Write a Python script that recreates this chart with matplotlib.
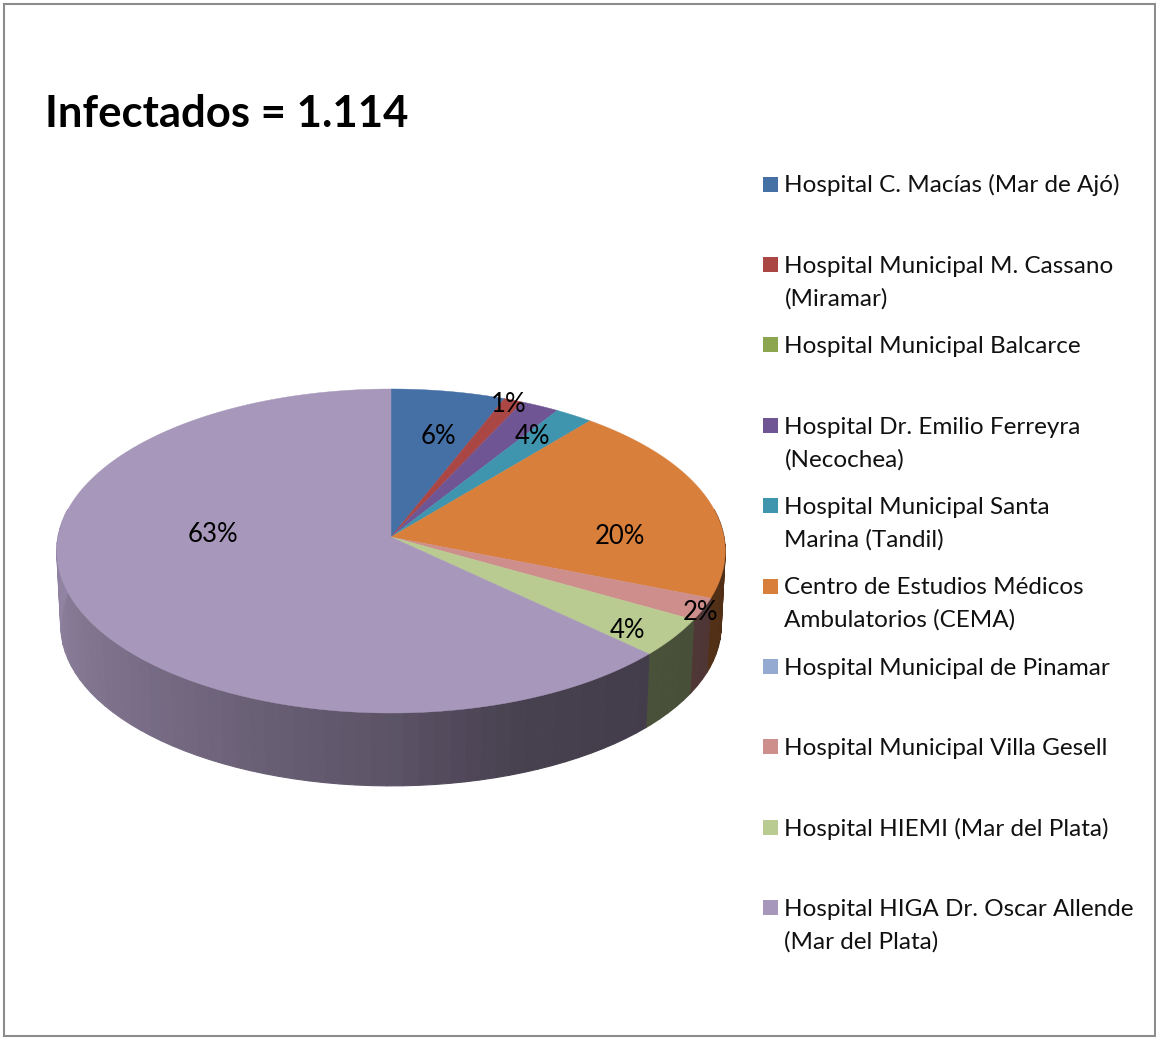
import numpy as np
import matplotlib
matplotlib.use("Agg")
from matplotlib import pyplot as plt
from matplotlib.patches import Rectangle

plt.rcParams['font.family'] = ['Lato', 'DejaVu Sans']

hospitals = [
    "Hospital C. Macías (Mar de Ajó)",
    "Hospital Municipal M. Cassano\n(Miramar)",
    "Hospital Municipal Balcarce",
    "Hospital Dr. Emilio Ferreyra\n(Necochea)",
    "Hospital Municipal Santa\nMarina (Tandil)",
    "Centro de Estudios Médicos\nAmbulatorios (CEMA)",
    "Hospital Municipal de Pinamar",
    "Hospital Municipal Villa Gesell",
    "Hospital HIEMI (Mar del Plata)",
    "Hospital HIGA Dr. Oscar Allende\n(Mar del Plata)",
]
shares = [6.0, 1.0, 0.0, 2.0, 2.0, 20.0, 0.0, 2.2, 3.8, 63.0]
colors = ["#4570A6", "#AA4644", "#8BA64F", "#6F5594", "#4095AE",
          "#D87F3B", "#95AAD1", "#CE8E8C", "#B9CB90", "#A797BA"]

pct_labels = ["6%", "1%", "4%", "20%", "2%", "4%", "63%"]
pct_x = [438, 509, 532, 620, 701, 627, 213]
pct_y = [437, 405, 437, 536, 612, 631, 535]

# side shading, fraction of the slice colour by angle
shade_angles = [90, 133, 160, 180, 225, 270]
shade_values = [0.36, 0.40, 0.43, 0.55, 0.72, 0.87]

W, H = 1156, 1038
fig = plt.figure(figsize=(W / 100, H / 100), dpi=100)
ax = fig.add_axes([0, 0, 1, 1])
ax.set_xlim(0, W)
ax.set_ylim(H, 0)
ax.axis('off')

ax.add_patch(Rectangle((3.5, 3.5), W - 5, H - 6, fill=False, ec="#8C8C8C", lw=1.5))


# perspective circle, angle in degrees clockwise from the top
def rim(theta, cy=537.0, rx=333.0, ky=160.8, p=0.0864, scale=1.0):
    t = np.radians(theta)
    u, v = np.sin(t), np.cos(t)
    d = 1 + p * v
    return 391.0 + scale * rx * u / d, cy - scale * ky * v / d


edges = np.cumsum([0.0] + shares) * 3.6

# side wall first
for i, col in enumerate(colors):
    a0, a1 = edges[i], edges[i + 1]
    if a1 <= a0:
        continue
    lo, hi = max(a0, 80), min(a1, 280)
    if hi <= lo:
        continue
    rgb = np.array(matplotlib.colors.to_rgb(col))
    steps = np.arange(lo, hi, 2.5).tolist() + [hi]
    for s0, s1 in zip(steps[:-1], steps[1:]):
        x0, y0 = rim(s0)
        x1, y1 = rim(s1)
        x2, y2 = rim(s1, cy=612.0, scale=0.988)
        x3, y3 = rim(s0, cy=612.0, scale=0.988)
        f = np.interp((s0 + s1) / 2, shade_angles, shade_values)
        c = rgb * f
        ax.fill([x0, x1, x2, x3], [y0, y1, y2, y3], color=c, lw=0.8, zorder=2)

# top face
for i, col in enumerate(colors):
    a0, a1 = edges[i], edges[i + 1]
    if a1 <= a0:
        continue
    th = np.linspace(a0, a1, 200)
    xs, ys = rim(th)
    ax.fill(np.r_[391.0, xs], np.r_[537.0, ys], color=col, lw=0.3, zorder=3)

for lab, x, y in zip(pct_labels, pct_x, pct_y):
    ax.text(x, y, lab, fontsize=18.5, color="black", ha='center', va='center', zorder=5)

ax.text(45, 127, "Infectados = 1.114", fontsize=31.4, fontweight='bold', color="black",
        ha='left', va='baseline')

# legend
for i, (name, col) in enumerate(zip(hospitals, colors)):
    row = 184 + i * 80.4
    ax.add_patch(Rectangle((763, row - 7.5), 15, 15, fc=col, ec='none'))
    for j, line in enumerate(name.split("\n")):
        ax.text(784.5, row + 8.5 + j * 32.5, line, fontsize=17.5, color="#111111",
                ha='left', va='baseline')

fig.savefig("out.png", dpi=100, facecolor="white")
